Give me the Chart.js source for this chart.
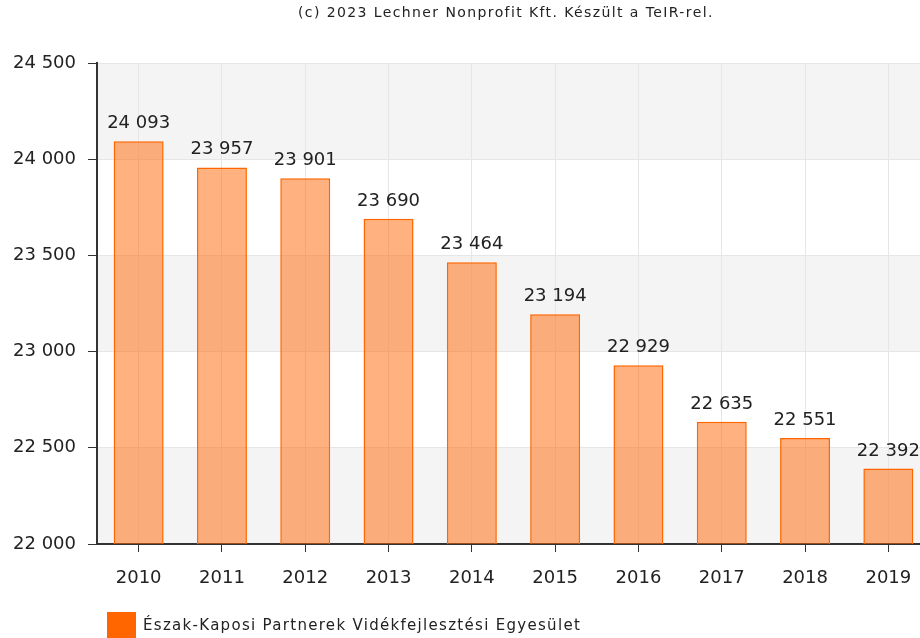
<!DOCTYPE html>
<html>
<head>
<meta charset="utf-8">
<script src="https://cdn.jsdelivr.net/npm/chart.js@4"></script>
<style>
html,body{margin:0;padding:0;background:#fff;overflow:hidden;width:920px;height:638px;}
#wrap{position:relative;width:920px;height:638px;overflow:hidden;}
#c{position:absolute;left:0;top:0;}
#title{position:absolute;top:4px;left:298px;font:14px "DejaVu Sans",sans-serif;letter-spacing:1.4px;color:#222;white-space:nowrap;}
#legend{position:absolute;left:107px;top:612px;height:26px;display:flex;align-items:center;font:15px "DejaVu Sans",sans-serif;letter-spacing:1.3px;color:#222;white-space:nowrap;}
#legend .box{width:29px;height:26px;background:#ff6600;margin-right:7px;}
</style>
</head>
<body>
<div id="wrap">
<canvas id="c" width="940" height="638" style="width:940px;height:638px;"></canvas>
<div id="title">(c) 2023 Lechner Nonprofit Kft. Készült a TeIR-rel.</div>
<div id="legend"><div class="box"></div><span id="legtext"></span></div>
</div>
<script>
const categories = ['2010','2011','2012','2013','2014','2015','2016','2017','2018','2019'];
const values = [24093, 23957, 23901, 23690, 23464, 23194, 22929, 22635, 22551, 22392];
const seriesName = 'Észak-Kaposi Partnerek Vidékfejlesztési Egyesület';
const yMin = 22000, yMax = 24500, yStep = 500;

document.getElementById('legtext').textContent = seriesName;

function fmt(v){ return String(v).replace(/\B(?=(\d{3})+(?!\d))/g, ' '); }

const bandPlugin = {
  id: 'bands',
  beforeDraw(chart){
    const {ctx, chartArea:a, scales:{y}} = chart;
    ctx.save();
    ctx.fillStyle = '#f4f4f4';
    for (let v = yMin; v < yMax; v += 2*yStep){
      const top = y.getPixelForValue(v + yStep), bot = y.getPixelForValue(v);
      ctx.fillRect(a.left, top, a.right - a.left, bot - top);
    }
    ctx.restore();
  }
};

const labelPlugin = {
  id: 'vlabels',
  afterDatasetsDraw(chart){
    const ctx = chart.ctx;
    const meta = chart.getDatasetMeta(0);
    ctx.save();
    ctx.font = '18px "DejaVu Sans", sans-serif';
    ctx.fillStyle = '#222';
    ctx.textAlign = 'center';
    ctx.textBaseline = 'alphabetic';
    meta.data.forEach((bar, i) => {
      ctx.fillText(fmt(chart.data.datasets[0].data[i]), bar.x, bar.y - 13);
    });
    ctx.restore();
  }
};

new Chart(document.getElementById('c'), {
  type: 'bar',
  data: {
    labels: categories,
    datasets: [{
      label: seriesName,
      data: values,
      backgroundColor: 'rgba(255,102,0,0.5)',
      borderColor: '#ff6600',
      borderWidth: 1.5,
      barPercentage: 0.6,
      categoryPercentage: 1.0
    }]
  },
  options: {
    responsive: false,
    animation: false,
    layout: { padding: { left: 0, right: 10, top: 63, bottom: 44 } },
    plugins: {
      legend: { display: false },
      title: { display: false },
      tooltip: { enabled: false }
    },
    scales: {
      x: {
        grid: { offset: false, color: '#e6e6e6', tickColor: '#333', tickLength: 8, drawOnChartArea: true },
        border: { color: '#333', width: 2 },
        ticks: { color: '#222', font: { family: 'DejaVu Sans', size: 18 }, padding: 16 },
        afterFit(s){ s.height = 50; }
      },
      y: {
        min: yMin, max: yMax,
        grid: { color: '#e6e6e6', tickColor: '#333', tickLength: 9 },
        border: { color: '#333', width: 2 },
        ticks: { stepSize: yStep, color: '#222', font: { family: 'DejaVu Sans', size: 18 }, padding: 12,
                 callback: v => fmt(v) },
        afterFit(s){ s.width = 97; }
      }
    }
  },
  plugins: [bandPlugin, labelPlugin]
});
</script>
</body>
</html>
